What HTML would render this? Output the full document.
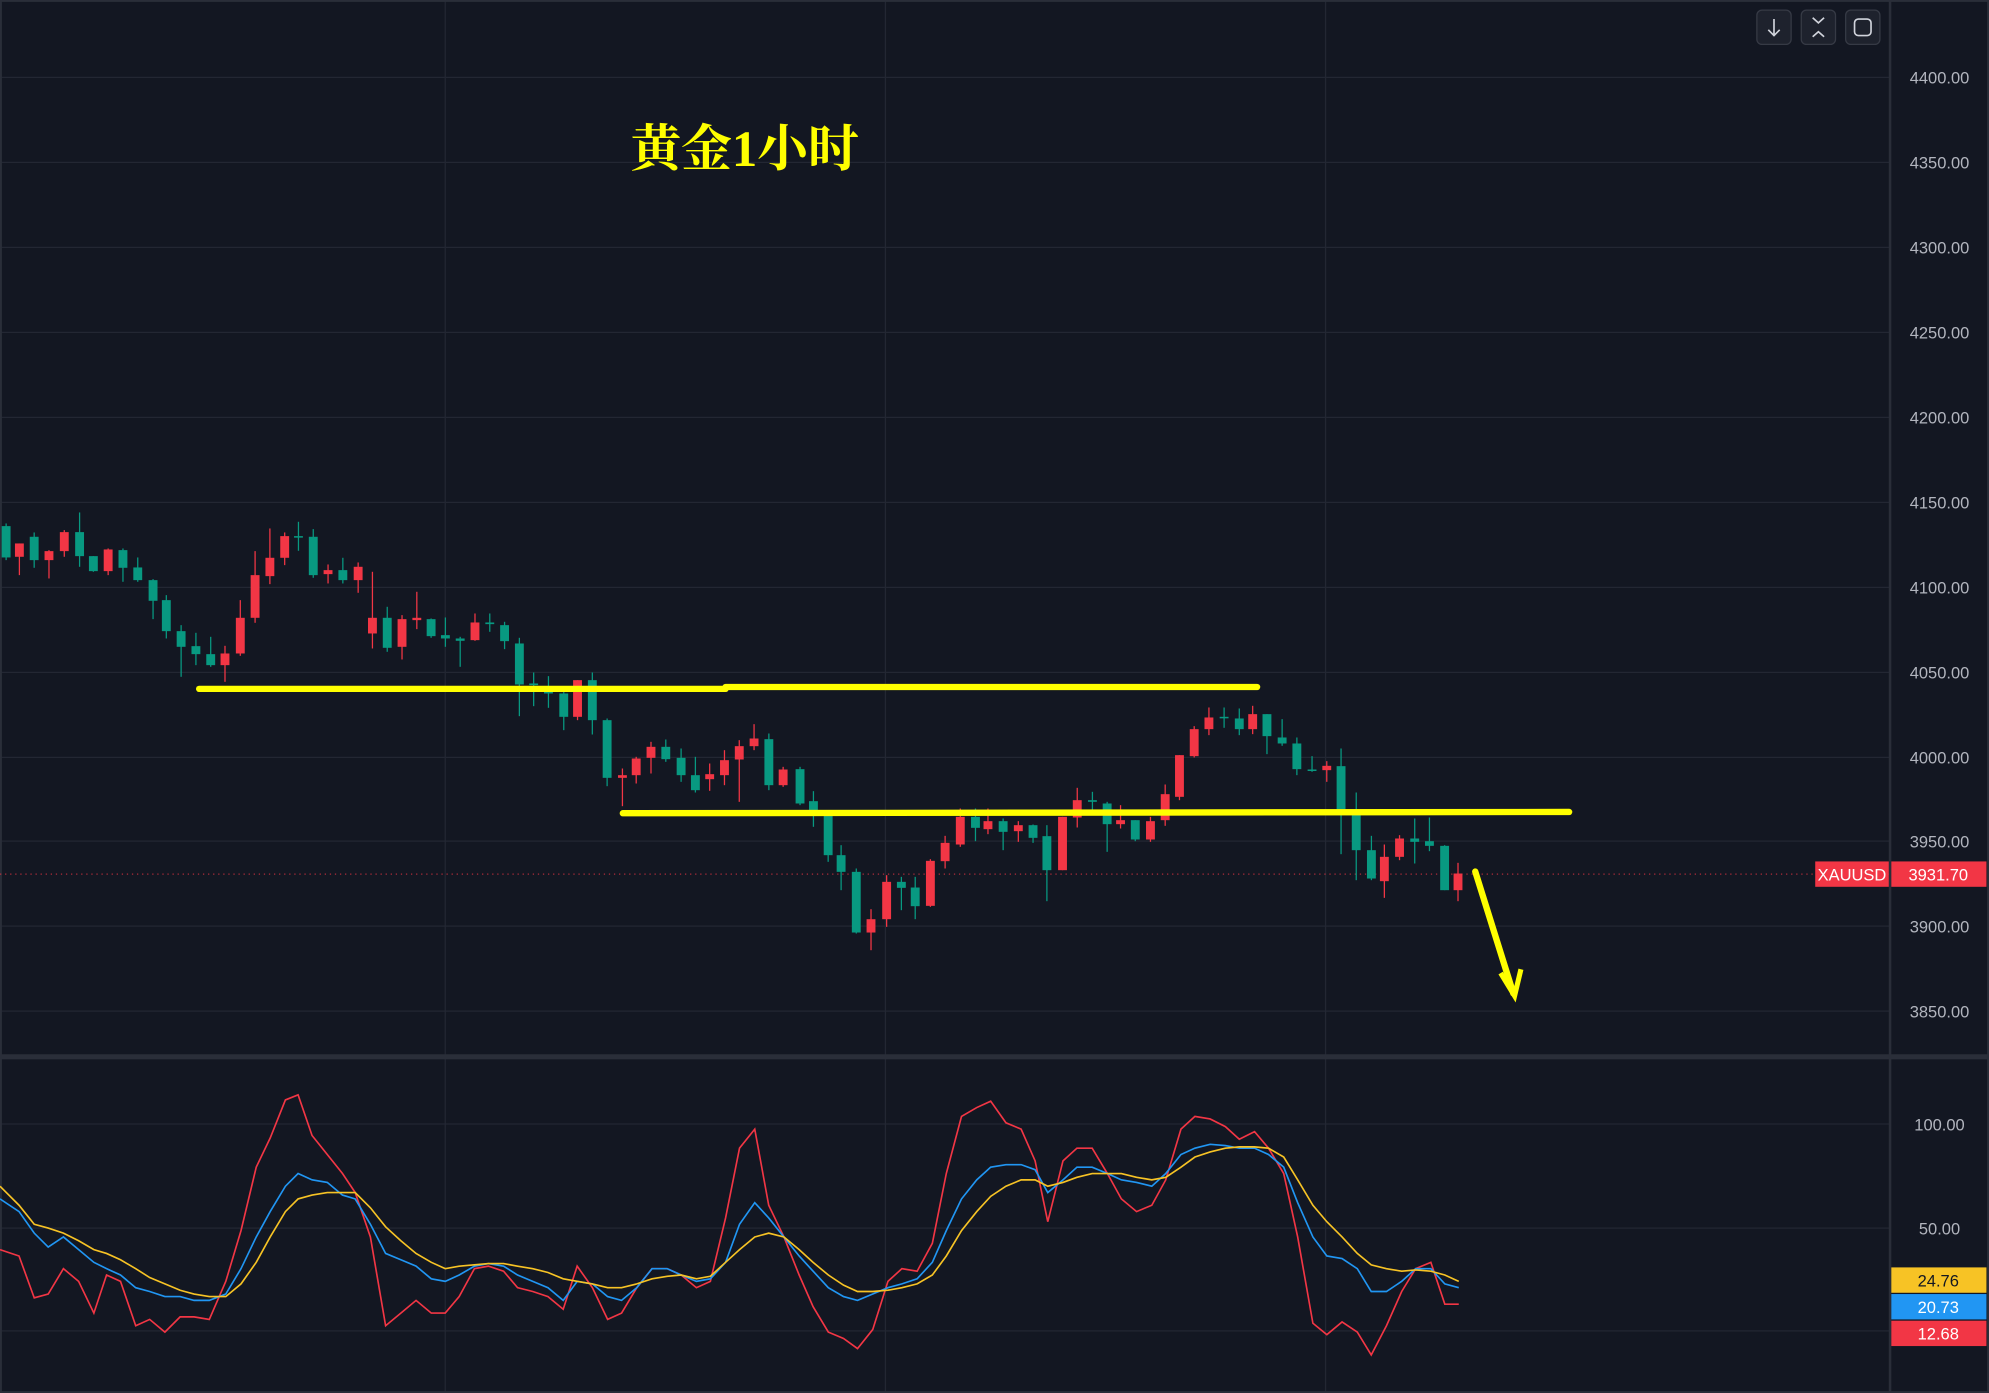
<!DOCTYPE html>
<html><head><meta charset="utf-8">
<style>
html,body{margin:0;padding:0;background:#131722;}
svg{display:block;}
text{font-family:"Liberation Sans",sans-serif;}
</style></head>
<body>
<svg id="c" width="1989" height="1393" viewBox="0 0 1568 1098" preserveAspectRatio="none" xmlns="http://www.w3.org/2000/svg">
<rect x="0" y="0" width="1568" height="1098" fill="#131722"/>
<g stroke="#232733" stroke-width="1">
<line x1="0" y1="61" x2="1490" y2="61"/><line x1="0" y1="128" x2="1490" y2="128"/>
<line x1="0" y1="195" x2="1490" y2="195"/><line x1="0" y1="262" x2="1490" y2="262"/>
<line x1="0" y1="329" x2="1490" y2="329"/><line x1="0" y1="396" x2="1490" y2="396"/>
<line x1="0" y1="463" x2="1490" y2="463"/><line x1="0" y1="530" x2="1490" y2="530"/>
<line x1="0" y1="597" x2="1490" y2="597"/><line x1="0" y1="663" x2="1490" y2="663"/>
<line x1="0" y1="730" x2="1490" y2="730"/><line x1="0" y1="797" x2="1490" y2="797"/>
<line x1="0" y1="886" x2="1490" y2="886"/><line x1="0" y1="968" x2="1490" y2="968"/>
<line x1="0" y1="1049" x2="1490" y2="1049"/>
<line x1="351" y1="0" x2="351" y2="1098"/><line x1="698" y1="0" x2="698" y2="1098"/><line x1="1045" y1="0" x2="1045" y2="1098"/>
</g>
<rect x="0" y="831" width="1568" height="4" fill="#2a2e39"/>
<line x1="1490" y1="0" x2="1490" y2="1098" stroke="#2a2e39" stroke-width="2"/>
<rect x="0.5" y="0.5" width="1567" height="1097" fill="none" stroke="#2a2e39" stroke-width="2"/>
<line x1="0" y1="689" x2="1490" y2="689" stroke="#f23645" stroke-width="1" stroke-dasharray="1,3" opacity="0.7"/>
<g id="candles"></g>
<g id="ind" fill="none" stroke-width="1.3"></g>
<g fill="#b2b5be" font-size="13" text-anchor="middle">
<text x="1529" y="66">4400.00</text><text x="1529" y="133">4350.00</text>
<text x="1529" y="200">4300.00</text><text x="1529" y="267">4250.00</text>
<text x="1529" y="334">4200.00</text><text x="1529" y="401">4150.00</text>
<text x="1529" y="468">4100.00</text><text x="1529" y="535">4050.00</text>
<text x="1529" y="602">4000.00</text><text x="1529" y="668">3950.00</text>
<text x="1529" y="735">3900.00</text><text x="1529" y="802">3850.00</text>
<text x="1529" y="891">100.00</text><text x="1529" y="973">50.00</text>
</g>
<rect x="1431" y="679" width="58" height="20" fill="#f23645"/>
<text x="1460" y="694" fill="#fff" font-size="13" text-anchor="middle">XAUUSD</text>
<rect x="1491" y="679" width="75" height="20" fill="#f23645"/>
<text x="1528" y="694" fill="#fff" font-size="13" text-anchor="middle">3931.70</text>
<rect x="1491" y="999" width="75" height="20" fill="#f7c325"/>
<text x="1528" y="1014" fill="#131722" font-size="13" text-anchor="middle">24.76</text>
<rect x="1491" y="1020" width="75" height="20" fill="#2196f3"/>
<text x="1528" y="1035" fill="#fff" font-size="13" text-anchor="middle">20.73</text>
<rect x="1491" y="1041" width="75" height="20" fill="#f23645"/>
<text x="1528" y="1056" fill="#fff" font-size="13" text-anchor="middle">12.68</text>
<g fill="#1e222d" stroke="#363a45" stroke-width="1">
<rect x="1385" y="8" width="27" height="27" rx="4"/><rect x="1420" y="8" width="27" height="27" rx="4"/><rect x="1455" y="8" width="27" height="27" rx="4"/>
</g>
<g stroke="#d1d4dc" stroke-width="1.3" fill="none">
<path d="M1398.5 15 V28 M1394 23.5 L1398.5 28 L1403 23.5"/>
<path d="M1429 14 L1433.5 18 L1438 14 M1429 29 L1433.5 25 L1438 29"/>
<rect x="1462" y="15" width="13" height="13" rx="3"/>
</g>
<text x="497" y="131" fill="#ffff00" font-size="40" font-weight="700" style="font-family:'Liberation Serif','Noto Serif CJK SC',serif">黄金1小时</text>
<g stroke="#ffff00" stroke-width="5" stroke-linecap="round" fill="none">
<line x1="157" y1="543" x2="572" y2="543"/><line x1="572" y1="541.5" x2="991" y2="541.5"/>
<line x1="491" y1="641" x2="1237" y2="640"/>
<path d="M1163 687 L1193 783"/>
<path d="M1183 767 L1194 785 L1199 764" stroke-width="4" stroke-linecap="butt"/>
</g>
</svg>
<script>
var NS="http://www.w3.org/2000/svg";
var G="#089981",R="#f23645";
function mk(t,a,p){var e=document.createElementNS(NS,t);for(var k in a)e.setAttribute(k,a[k]);p.appendChild(e);return e;}
var c1=[[12,78,172,70,180,G],[38,130,170,130,225,R],[67,110,180,97,203,G],[96,153,180,150,235,R],[126,96,153,90,170,R],[156,96,168,37,200,G],[183,168,213,168,215,G],[212,148,213,145,225,R],[241,150,203,145,245,G],[270,202,240,172,245,G],[300,240,302,237,357,G],[326,300,393,285,415,G],[355,393,440,375,530,G],[384,438,462,398,495,G],[413,462,495,410,500,G],[441,460,495,437,545,R],[471,353,460,300,467,R],[500,225,353,153,368,R],[529,173,228,85,252,R],[558,108,173,97,195,R],[585,108,112,65,152,G],[614,110,225,87,233,G],[643,210,222,193,250,R],[672,210,240,173,250,G],[702,200,240,187,278,R],[730,353,400,215,445,R],[759,353,443,320,455,G],[788,357,440,345,478,R],[817,353,360,275,387,R],[845,357,408,355,413,G],[873,405,415,352,440,G],[902,415,422,410,500,G],[931,367,420,340,422,R],[960,367,372,340,395,G],[989,375,423,365,447,G],[1018,430,553,413,648,G],[1046,550,555,517,618,G],[1075,575,580,528,623,G],[1105,580,650,575,690,G],[1132,540,650,540,660,R],[1161,540,660,517,703,G],[1190,660,833,655,858,G],[1220,825,833,805,918,R],[1247,775,825,770,850,R],[1276,740,773,725,820,R],[1305,740,777,718,785,G],[1335,773,825,745,845,G],[1363,825,870,770,877,G],[1391,822,837,790,872,R],[1420,780,825,750,855,R],[1449,738,778,720,905,R],[1478,715,738,672,750,R],[1507,717,855,700,870,G],[1535,808,855,800,860,R]];
var c2=[[0,267,370,260,375,G],[30,363,390,333,440,G],[63,400,525,400,545,G],[92,525,575,495,630,G],[126,575,757,565,760,G],[159,717,757,687,810,R],[194,605,717,585,740,R],[227,605,623,590,690,G],[258,622,678,590,717,G],[292,542,677,537,680,R],[325,488,543,467,565,R],[359,410,493,385,500,R],[393,410,443,385,483,G],[421,423,447,385,462,R],[455,423,455,415,510,G],[489,435,453,423,485,R],[522,435,473,433,488,G],[553,468,570,435,663,G],[588,410,570,410,570,R],[621,360,412,323,442,R],[655,360,365,335,390,G],[688,370,432,365,515,G],[718,420,432,375,445,R],[751,420,478,420,483,G],[785,423,478,410,485,R],[818,342,420,313,437,R],[850,225,350,225,360,R],[883,147,228,138,232,R],[916,112,147,82,165,R],[950,110,113,82,143,G],[984,115,147,85,165,G],[1014,102,147,77,162,R],[1046,102,168,102,222,G],[1080,172,190,117,197,G],[1113,190,267,172,285,G],[1147,268,272,228,275,G],[1180,257,270,243,305,R],[1212,258,390,205,522,G],[1246,390,510,337,600,G],[1280,510,595,467,600,G],[1309,530,603,493,653,R],[1343,475,530,465,540,R],[1377,475,485,415,550,G],[1410,483,497,412,513,G],[1444,497,630,495,630,G],[1474,580,630,548,663,R]];
var g=document.getElementById("candles");
function draw(c,fx,fy){var x=fx(c[0]),bt=fy(c[1]),bb=fy(c[2]),wt=fy(c[3]),wb=fy(c[4]);
mk("line",{x1:x,x2:x,y1:wt,y2:wb,stroke:c[5],"stroke-width":1},g);
mk("rect",{x:x-3.5,y:bt,width:7,height:Math.max(1.2,bb-bt),fill:c[5]},g);}
c1.forEach(function(c){draw(c,function(v){return v*0.4022;},function(v){return v*0.2628+394.2;});});
c2.forEach(function(c){draw(c,function(v){return v*0.3519+630.7;},function(v){return v*0.2628+536.1;});});
var xs=[0,15,27,38,50,62,74,84,95,107,118,130,142,153,165,178,190,202,213,225,235,246,258,270,280,292,304,316,328,340,351,362,374,385,397,408,420,432,444,455,467,479,490,502,514,526,537,549,560,572,583,595,606,618,630,641,653,665,676,688,700,711,723,735,746,758,770,781,793,805,816,826,838,849,861,873,884,896,908,919,931,942,954,966,977,989,1000,1012,1023,1035,1046,1058,1070,1081,1093,1105,1116,1128,1139,1150];
var red=[985,990,1023,1020,1000,1010,1035,1005,1010,1045,1040,1050,1038,1038,1040,1010,970,920,897,867,863,895,910,925,940,975,1045,1035,1025,1035,1035,1022,1000,998,1002,1015,1018,1022,1032,998,1015,1040,1035,1015,1000,1000,1005,1015,1010,960,905,890,950,975,1005,1030,1050,1055,1063,1048,1010,1000,1002,980,925,880,873,868,885,890,915,963,915,905,905,925,945,955,950,930,890,880,882,888,898,892,905,925,975,1043,1052,1042,1050,1068,1045,1018,1000,995,1028,1028];
var blue=[945,955,972,983,975,985,995,1000,1005,1015,1018,1022,1022,1025,1025,1020,1000,975,955,935,925,930,932,942,945,965,988,993,998,1008,1010,1005,998,996,998,1005,1010,1015,1025,1010,1012,1022,1025,1015,1000,1000,1005,1010,1008,995,965,948,960,975,990,1002,1015,1022,1025,1020,1015,1012,1008,995,970,945,930,920,918,918,922,940,930,920,920,925,930,932,935,925,910,905,902,903,905,905,910,920,948,975,990,992,1000,1018,1018,1010,1000,1000,1012,1015];
var org=[935,950,965,968,972,978,985,988,993,1000,1007,1012,1017,1020,1022,1022,1012,995,975,955,945,942,940,940,940,952,967,978,988,995,1000,998,997,996,996,998,1000,1003,1008,1010,1012,1015,1015,1012,1008,1006,1005,1008,1006,995,985,975,972,975,985,995,1005,1013,1018,1018,1017,1015,1012,1005,990,970,955,943,935,930,930,935,932,928,925,925,925,928,930,928,920,912,908,905,904,904,905,912,930,950,963,975,988,997,1000,1002,1001,1002,1005,1010];
var ind=document.getElementById("ind");
function pl(a,col){mk("polyline",{points:xs.map(function(x,i){return x+","+a[i];}).join(" "),stroke:col},ind);}
pl(red,"#f23645");pl(blue,"#2196f3");pl(org,"#f7c325");
</script>
</body></html>
